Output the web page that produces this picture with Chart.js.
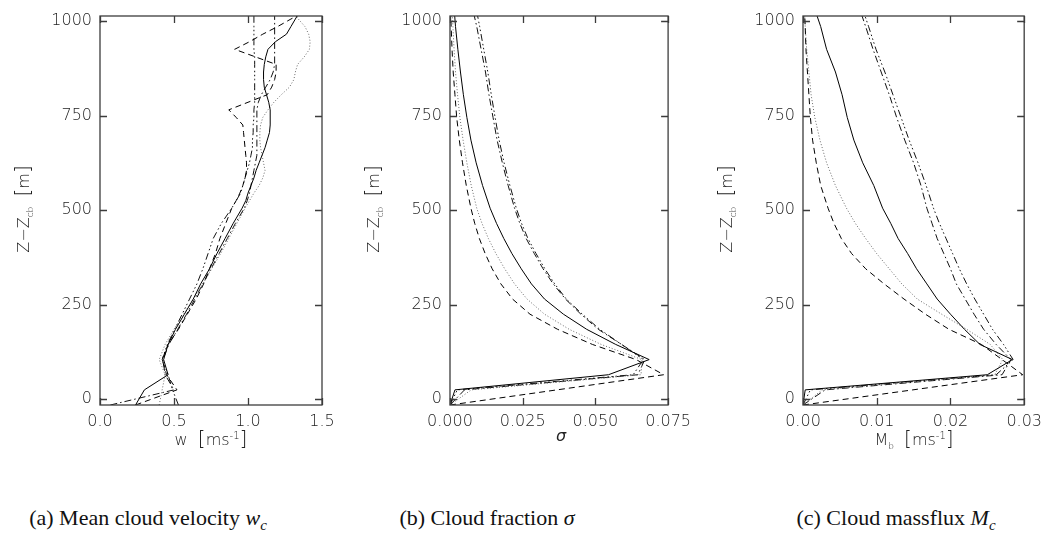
<!DOCTYPE html>
<html>
<head>
<meta charset="utf-8">
<script src="https://cdn.jsdelivr.net/npm/chart.js@4/dist/chart.umd.min.js"></script>
<style>
  body { margin: 0; background: #fff; }
  #wrap { position: relative; width: 1051px; height: 551px; overflow: hidden; background: #fff; }
  canvas { position: absolute; top: 0; }
  .yt { position: absolute; width: 200px; height: 24px; line-height: 24px; text-align: center;
        font-family: 'DejaVu Sans', sans-serif; font-weight: 300; font-size: 16px; color: #222;
        transform: rotate(-90deg); white-space: nowrap; }
  .xt { position: absolute; width: 240px; text-align: center; top: 426px;
        font-family: 'DejaVu Sans', sans-serif; font-weight: 300; font-size: 16px; color: #222; white-space: nowrap; }
  .yt sub, .xt sub { font-size: 9px; }
  .xt sup { font-size: 10px; }
  .br { font-size: 20px; }
  .cap { position: absolute; top: 505px; width: 320px; text-align: center;
         font-family: 'Liberation Serif', 'DejaVu Serif', serif; font-size: 22px; color: #111; white-space: nowrap; }
  .cap sub { font-size: 15px; }
</style>
</head>
<body>
<div id="wrap">
  <canvas id="ca" width="350" height="470" style="left:0px"></canvas>
  <canvas id="cb" width="350" height="470" style="left:350px"></canvas>
  <canvas id="cc" width="351" height="470" style="left:700px"></canvas>

  <div class="yt" style="left:-78px; top:197px;">Z&minus;Z<sub>cb</sub>&nbsp;&nbsp;<span class="br">[</span>m<span class="br">]</span></div>
  <div class="yt" style="left:272px; top:197px;">Z&minus;Z<sub>cb</sub>&nbsp;&nbsp;<span class="br">[</span>m<span class="br">]</span></div>
  <div class="yt" style="left:625px; top:197px;">Z&minus;Z<sub>cb</sub>&nbsp;&nbsp;<span class="br">[</span>m<span class="br">]</span></div>

  <div class="xt" style="left:91px;">w&nbsp;&nbsp;<span class="br">[</span>ms<sup>-1</sup><span class="br">]</span></div>
  <div class="xt" style="left:441px;"><i>&sigma;</i></div>
  <div class="xt" style="left:794px;">M<sub>b</sub>&nbsp;&nbsp;<span class="br">[</span>ms<sup>-1</sup><span class="br">]</span></div>

  <div class="cap" style="left:-12px;">(a) Mean cloud velocity <i>w<sub>c</sub></i></div>
  <div class="cap" style="left:327px;">(b) Cloud fraction <i>&sigma;</i></div>
  <div class="cap" style="left:736px;">(c) Cloud massflux <i>M<sub>c</sub></i></div>
</div>

<script>
// ---------------- DATA ----------------
// Heights (m above cloud base) for panel (a)
const zA = [-15, 25, 65, 105, 145, 185, 225, 265, 305, 345, 385, 425, 465, 505,
  525, 545, 565, 585, 605, 625, 645, 665, 685, 705, 725, 745, 765, 785, 805, 825,
  845, 865, 885, 905, 925, 945, 965, 985, 1005, 1025];

// Panel (a): mean cloud velocity w [m/s]
const aSolid = [0.24, 0.30, 0.46, 0.43, 0.46, 0.51, 0.57, 0.63, 0.68, 0.74, 0.79, 0.845, 0.90, 0.96,
  0.985, 1.00, 1.02, 1.04, 1.055, 1.075, 1.095, 1.115, 1.13, 1.145, 1.15, 1.15, 1.15, 1.14, 1.125, 1.11,
  1.105, 1.105, 1.11, 1.12, 1.135, 1.185, 1.26, 1.29, 1.32, 1.35];
const aDashed = [0.24, 0.52, 0.45, 0.42, 0.46, 0.53, 0.59, 0.65, 0.70, 0.74, 0.78, 0.81, 0.85, 0.89,
  0.92, 0.945, 0.965, 0.98, 0.99, 0.99, 0.985, 0.98, 0.975, 0.97, 0.965, 0.92, 0.87, 1.00, 1.13, 1.16,
  1.18, 1.19, 1.19, 1.05, 0.91, 1.01, 1.10, 1.20, 1.29, 1.39];
const aDotted = [0.40, 0.42, 0.44, 0.40, 0.44, 0.50, 0.565, 0.63, 0.695, 0.755, 0.815, 0.87, 0.925, 0.98,
  1.01, 1.04, 1.075, 1.10, 1.115, 1.105, 1.095, 1.085, 1.08, 1.08, 1.085, 1.10, 1.135, 1.175, 1.225, 1.28,
  1.31, 1.32, 1.335, 1.38, 1.415, 1.42, 1.41, 1.385, 1.34, 1.30];
const aDashDot = [0.07, 0.50, 0.44, 0.425, 0.465, 0.525, 0.585, 0.64, 0.695, 0.75, 0.805, 0.86, 0.915, 0.975,
  0.995, 1.01, 1.02, 1.03, 1.04, 1.05, 1.06, 1.06, 1.06, 1.06, 1.06, 1.06, 1.06, 1.07, 1.09, 1.12,
  1.15, 1.17, 1.18, 1.18, 1.18, 1.18, 1.18, 1.18, 1.18, 1.18];
const aDashDotDot = [0.53, 0.49, 0.46, 0.42, 0.455, 0.505, 0.555, 0.605, 0.655, 0.695, 0.73, 0.765, 0.82, 0.89,
  0.92, 0.95, 0.965, 0.98, 0.995, 1.01, 1.02, 1.03, 1.03, 1.035, 1.035, 1.04, 1.04, 1.045, 1.045, 1.045,
  1.045, 1.045, 1.045, 1.045, 1.04, 1.04, 1.04, 1.04, 1.04, 1.04];

// Heights for panels (b) and (c)
const zBC = [-15, 25, 65, 105, 145, 185, 225, 265, 305, 345, 385, 425, 465, 505,
  565, 625, 685, 745, 805, 865, 925, 985, 1025];

// Panel (b): cloud fraction sigma
const bSolid = [0, 0.0017, 0.0545, 0.0685, 0.057, 0.047, 0.039, 0.0325, 0.028, 0.0245, 0.0213, 0.0185, 0.0160, 0.0138,
  0.0112, 0.0090, 0.0072, 0.0058, 0.0046, 0.0036, 0.0027, 0.0019, 0.0015];
const bDashed = [0, 0.0368, 0.0735, 0.064, 0.049, 0.037, 0.0275, 0.0215, 0.0175, 0.0145, 0.0121, 0.0101, 0.0085, 0.0072,
  0.0056, 0.0043, 0.0032, 0.0023, 0.0017, 0.0011, 0.0007, 0.0004, 0.0002];
const bDotted = [0, 0.0073, 0.0657, 0.066, 0.052, 0.041, 0.0325, 0.0265, 0.0222, 0.0188, 0.0158, 0.0132, 0.0110, 0.0092,
  0.0073, 0.0058, 0.0045, 0.0034, 0.0026, 0.0019, 0.0014, 0.0010, 0.0008];
const bDashDot = [0, 0.0050, 0.0646, 0.067, 0.059, 0.051, 0.045, 0.0397, 0.0355, 0.032, 0.029, 0.0262, 0.024, 0.0222,
  0.020, 0.018, 0.0162, 0.0148, 0.0134, 0.0122, 0.0107, 0.0092, 0.0080];
const bDashDotDot = [0, 0.0025, 0.0630, 0.0665, 0.059, 0.0515, 0.0455, 0.040, 0.036, 0.0326, 0.0296, 0.0268, 0.0246, 0.0228,
  0.0206, 0.0186, 0.0169, 0.0155, 0.0142, 0.0130, 0.0116, 0.0102, 0.0092];

// Panel (c): cloud massflux M [m/s]
const cSolid = [0, 0.0003, 0.0250, 0.0284, 0.0240, 0.0219, 0.0200, 0.0182, 0.0168, 0.0154, 0.0142, 0.0129, 0.0119, 0.0108,
  0.0096, 0.0081, 0.0069, 0.0060, 0.0053, 0.0044, 0.0032, 0.0024, 0.0017];
const cDashed = [0, 0.0149, 0.0298, 0.0270, 0.0242, 0.0198, 0.0166, 0.0137, 0.0110, 0.0085, 0.0066, 0.0052, 0.0042, 0.0034,
  0.0024, 0.0018, 0.0013, 0.0010, 0.0008, 0.0006, 0.0004, 0.0003, 0.0002];
const cDotted = [0, 0.0026, 0.0260, 0.0271, 0.0254, 0.0222, 0.0188, 0.0155, 0.0134, 0.0117, 0.0100, 0.0085, 0.0071, 0.0059,
  0.0044, 0.0032, 0.0023, 0.0016, 0.0011, 0.0008, 0.0005, 0.0003, 0.0002];
const cDashDot = [0, 0.0030, 0.0270, 0.0282, 0.0262, 0.0245, 0.0232, 0.0220, 0.0208, 0.0200, 0.0191, 0.0182, 0.0175, 0.0168,
  0.0160, 0.0150, 0.0138, 0.0127, 0.0117, 0.0106, 0.0095, 0.0085, 0.0078];
const cDashDotDot = [0, 0.0010, 0.0262, 0.0285, 0.0272, 0.0257, 0.0245, 0.0233, 0.0222, 0.0212, 0.0203, 0.0194, 0.0185, 0.0177,
  0.0167, 0.0156, 0.0144, 0.0133, 0.0122, 0.0111, 0.0099, 0.0089, 0.0082];

// Tick values and labels
const yTicks = [0, 250, 500, 750, 1000];
const yTickLabels = ['0', '250', '500', '750', '1000'];
const xTicksA = [0, 0.5, 1.0, 1.5];
const xTickLabelsA = ['0.0', '0.5', '1.0', '1.5'];
const xTicksB = [0, 0.025, 0.05, 0.075];
const xTickLabelsB = ['0.000', '0.025', '0.050', '0.075'];
const xTicksC = [0, 0.01, 0.02, 0.03];
const xTickLabelsC = ['0.00', '0.01', '0.02', '0.03'];

// ---------------- STYLES ----------------
const STYLES = [
  { key: 'solid',       color: '#000', dash: [] },
  { key: 'dashed',      color: '#000', dash: [6, 4] },
  { key: 'dotted',      color: '#6a6a6a', dash: [1, 2] },
  { key: 'dashdot',     color: '#111', dash: [7, 3, 1.5, 3] },
  { key: 'dashdotdot',  color: '#111', dash: [7, 3, 1.5, 2.5, 1.5, 2.5, 1.5, 3] }
];

const frameTicks = {
  id: 'frameTicks',
  afterDatasetsDraw(chart) {
    const { ctx, chartArea: a, scales } = chart;
    const x = scales.x, y = scales.y;
    const L = 7;
    ctx.save();
    ctx.strokeStyle = '#3c3c3c';
    ctx.lineWidth = 1.3;
    ctx.setLineDash([]);
    ctx.strokeRect(a.left, a.top, a.right - a.left, a.bottom - a.top);
    ctx.beginPath();
    x.ticks.forEach(t => {
      const px = Math.round(x.getPixelForValue(t.value)) + 0.5;
      ctx.moveTo(px, a.bottom); ctx.lineTo(px, a.bottom - L);
      ctx.moveTo(px, a.top); ctx.lineTo(px, a.top + L);
    });
    y.ticks.forEach(t => {
      const py = Math.round(y.getPixelForValue(t.value)) + 0.5;
      ctx.moveTo(a.left, py); ctx.lineTo(a.left + L, py);
      ctx.moveTo(a.right, py); ctx.lineTo(a.right - L, py);
    });
    ctx.stroke();
    ctx.restore();
  }
};

const tickFont = { family: "'DejaVu Sans', sans-serif", size: 16, weight: 300, lineHeight: 1 };

function makePanel(id, z, series, xMax, xTicks, xLabels, yAxisWidth, padRight) {
  const datasets = series.map((vals, i) => ({
    label: STYLES[i].key,
    data: vals.map((v, k) => ({ x: v, y: z[k] })),
    borderColor: STYLES[i].color,
    borderDash: STYLES[i].dash,
    borderWidth: 1,
    pointRadius: 0,
    tension: 0,
    fill: false,
    clip: 0
  }));
  return new Chart(document.getElementById(id), {
    type: 'line',
    data: { datasets },
    options: {
      responsive: false,
      animation: false,
      devicePixelRatio: 1,
      layout: { padding: { top: 10, right: padRight, left: 0, bottom: 0 } },
      plugins: { legend: { display: false }, tooltip: { enabled: false } },
      scales: {
        x: {
          type: 'linear', min: 0, max: xMax,
          grid: { display: false, drawTicks: false },
          border: { display: false },
          afterBuildTicks: s => { s.ticks = xTicks.map(v => ({ value: v })); },
          afterFit: s => { s.height = 65; },
          ticks: {
            font: tickFont, color: '#222', padding: 9, maxRotation: 0, autoSkip: false,
            callback: (v, i) => xLabels[i]
          }
        },
        y: {
          type: 'linear', min: -15, max: 1013,
          grid: { display: false, drawTicks: false },
          border: { display: false },
          afterBuildTicks: s => { s.ticks = yTicks.map(v => ({ value: v })); },
          afterFit: s => { s.width = yAxisWidth; },
          ticks: {
            font: tickFont, color: '#222', padding: 8, autoSkip: false,
            callback: (v, i) => yTickLabels[i]
          }
        }
      }
    },
    plugins: [frameTicks]
  });
}

makePanel('ca', zA, [aSolid, aDashed, aDotted, aDashDot, aDashDotDot], 1.5, xTicksA, xTickLabelsA, 100, 28);
makePanel('cb', zBC, [bSolid, bDashed, bDotted, bDashDot, bDashDotDot], 0.075, xTicksB, xTickLabelsB, 100, 27);
makePanel('cc', zBC, [cSolid, cDashed, cDotted, cDashDot, cDashDotDot], 0.03, xTicksC, xTickLabelsC, 103, 26);
</script>
</body>
</html>
